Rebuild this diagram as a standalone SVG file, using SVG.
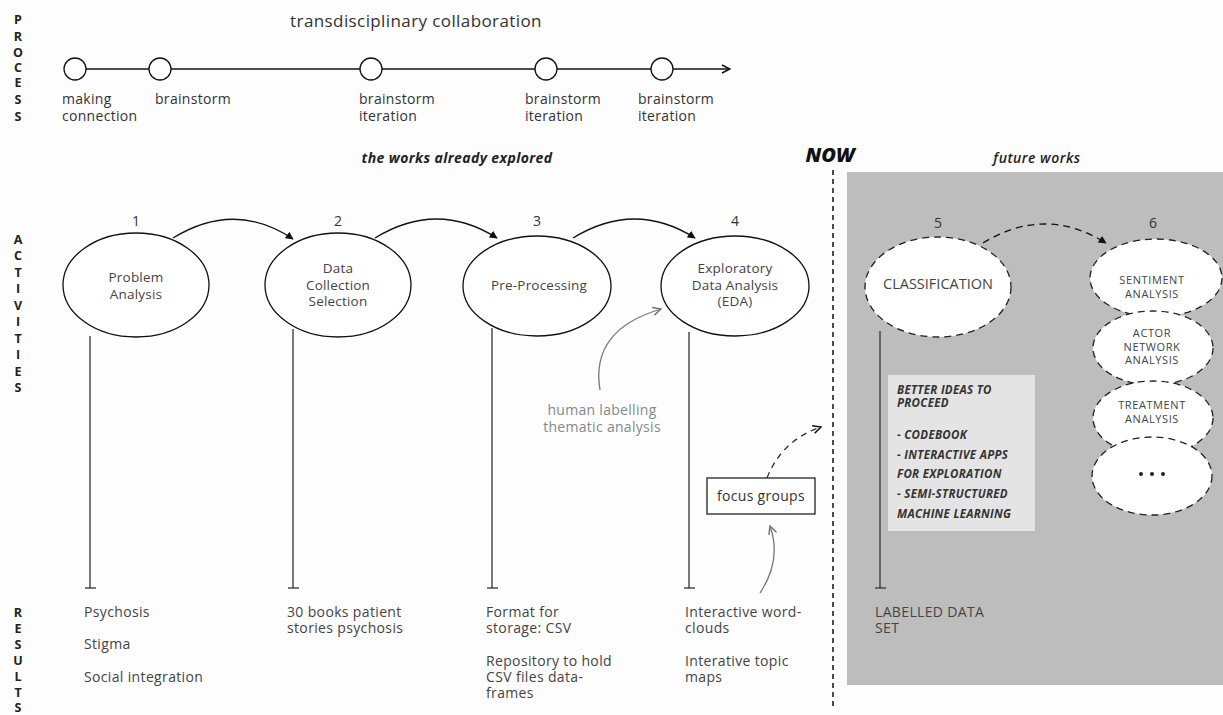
<svg xmlns="http://www.w3.org/2000/svg" width="1223" height="715" viewBox="0 0 1223 715">
<defs>
<style>
text{font-family:"Open Sans","Liberation Sans",sans-serif;fill:#333}
.vl{font-size:12.5px;font-weight:700;text-anchor:middle;fill:#222}
.pl{font-size:14px;letter-spacing:0.3px;fill:#333}
.num{font-size:14px;text-anchor:middle}
.nt{font-size:13.5px;letter-spacing:0.2px;text-anchor:middle;fill:#444}
.ft{font-size:11px;letter-spacing:0.6px;text-anchor:middle;fill:#444}
.res{font-size:14px;letter-spacing:0.35px;fill:#444}
.bi{font-size:11.5px;letter-spacing:0.3px;font-weight:700;font-style:italic;fill:#333}
.node{fill:#fff;stroke:#111;stroke-width:1.3}
.fnode{fill:#fff;stroke:#222;stroke-width:1.3;stroke-dasharray:7,5}
.stem{stroke:#333;stroke-width:1.3;fill:none}
.con{stroke:#111;stroke-width:1.3;fill:none}
</style>
<marker id="ah" viewBox="0 0 10 10" refX="9" refY="5" markerWidth="8" markerHeight="8" markerUnits="userSpaceOnUse" orient="auto"><path d="M0,0 L10,5 L0,10 Z" fill="#111"/></marker>
<marker id="oa" viewBox="0 0 10 10" refX="9" refY="5" markerWidth="10" markerHeight="10" markerUnits="userSpaceOnUse" orient="auto"><path d="M1,1 L9,5 L1,9" fill="none" stroke="#111" stroke-width="1.5"/></marker>
<marker id="ga" viewBox="0 0 10 10" refX="9" refY="5" markerWidth="10" markerHeight="10" markerUnits="userSpaceOnUse" orient="auto"><path d="M1,1 L9,5 L1,9" fill="none" stroke="#777" stroke-width="1.5"/></marker>
</defs>
<rect width="1223" height="715" fill="#fdfdfd"/>
<rect x="847" y="172" width="376" height="513" fill="#bdbdbd"/>

<g id="section-labels">
<text class="vl" x="18" y="24">P</text><text class="vl" x="18" y="41">R</text><text class="vl" x="18" y="57">O</text><text class="vl" x="18" y="72">C</text><text class="vl" x="18" y="87">E</text><text class="vl" x="18" y="104">S</text><text class="vl" x="18" y="121">S</text>
<text class="vl" x="18" y="244">A</text><text class="vl" x="18" y="260">C</text><text class="vl" x="18" y="277">T</text><text class="vl" x="18" y="293">I</text><text class="vl" x="18" y="310">V</text><text class="vl" x="18" y="326">I</text><text class="vl" x="18" y="343">T</text><text class="vl" x="18" y="359">I</text><text class="vl" x="18" y="376">E</text><text class="vl" x="18" y="392">S</text>
<text class="vl" x="18" y="617">R</text><text class="vl" x="18" y="633">E</text><text class="vl" x="18" y="649">S</text><text class="vl" x="18" y="665">U</text><text class="vl" x="18" y="681">L</text><text class="vl" x="18" y="697">T</text><text class="vl" x="18" y="712">S</text>
</g>

<g id="process">
<text x="416" y="27" style="font-size:17px;letter-spacing:0.4px;text-anchor:middle">transdisciplinary collaboration</text>
<line x1="86" y1="69" x2="730" y2="69" stroke="#111" stroke-width="1.3" marker-end="url(#oa)"/>
<circle cx="75" cy="69" r="11" fill="#fff" stroke="#111" stroke-width="1.3"/>
<circle cx="160" cy="69" r="11" fill="#fff" stroke="#111" stroke-width="1.3"/>
<circle cx="371" cy="69" r="11" fill="#fff" stroke="#111" stroke-width="1.3"/>
<circle cx="546" cy="69" r="11" fill="#fff" stroke="#111" stroke-width="1.3"/>
<circle cx="662" cy="69" r="11" fill="#fff" stroke="#111" stroke-width="1.3"/>
<text class="pl" x="62" y="104">making</text><text class="pl" x="62" y="121">connection</text>
<text class="pl" x="155" y="104">brainstorm</text>
<text class="pl" x="359" y="104">brainstorm</text><text class="pl" x="359" y="121">iteration</text>
<text class="pl" x="525" y="104">brainstorm</text><text class="pl" x="525" y="121">iteration</text>
<text class="pl" x="638" y="104">brainstorm</text><text class="pl" x="638" y="121">iteration</text>
</g>

<g id="headers">
<text x="457" y="163" style="font-size:14px;letter-spacing:0.4px;font-weight:700;font-style:italic;text-anchor:middle;fill:#222">the works already explored</text>
<text x="830" y="162" style="font-size:20px;font-weight:800;font-style:italic;text-anchor:middle;fill:#111">NOW</text>
<text x="1037" y="163" style="font-size:14px;letter-spacing:0.5px;font-weight:600;font-style:italic;text-anchor:middle;fill:#222">future works</text>
<line x1="833" y1="170" x2="833" y2="706" stroke="#111" stroke-width="1.5" stroke-dasharray="5,4"/>
</g>

<g id="connectors">
<line class="stem" x1="90" y1="336" x2="90" y2="588"/><line class="stem" x1="85" y1="588" x2="96" y2="588"/>
<line class="stem" x1="293" y1="329" x2="293" y2="588"/><line class="stem" x1="288" y1="588" x2="299" y2="588"/>
<line class="stem" x1="492" y1="328" x2="492" y2="588"/><line class="stem" x1="487" y1="588" x2="498" y2="588"/>
<line class="stem" x1="689" y1="332" x2="689" y2="588"/><line class="stem" x1="684" y1="588" x2="695" y2="588"/>
<line class="stem" x1="880" y1="331" x2="880" y2="588"/><line class="stem" x1="875" y1="588" x2="886" y2="588"/>
<path class="con" d="M173,238 Q235,200 293,239" marker-end="url(#ah)"/>
<path class="con" d="M375,238 Q437,200 497,238" marker-end="url(#ah)"/>
<path class="con" d="M573,238 Q635,200 695,238" marker-end="url(#ah)"/>
<path class="con" d="M983,243 Q1045,205 1106,243" stroke-dasharray="7,5" marker-end="url(#ah)"/>
<path d="M600,390 Q590,330 661,309" fill="none" stroke="#777" stroke-width="1.3" marker-end="url(#ga)"/>
<path d="M760,593 Q782,560 770,526" fill="none" stroke="#777" stroke-width="1.3" marker-end="url(#ga)"/>
<path d="M767,478 Q782,440 821,427" fill="none" stroke="#333" stroke-width="1.3" stroke-dasharray="6,5" marker-end="url(#oa)"/>
</g>

<g id="n1"><text class="num" x="136" y="226">1</text><ellipse class="node" cx="136" cy="285" rx="73" ry="52"/><text class="nt" x="136" y="282">Problem</text><text class="nt" x="136" y="299">Analysis</text></g>
<g id="n2"><text class="num" x="338" y="226">2</text><ellipse class="node" cx="338" cy="285" rx="73" ry="52"/><text class="nt" x="338" y="273">Data</text><text class="nt" x="338" y="290">Collection</text><text class="nt" x="338" y="306">Selection</text></g>
<g id="n3"><text class="num" x="537" y="226">3</text><ellipse class="node" cx="537" cy="286" rx="74" ry="50"/><text class="nt" x="539" y="290">Pre-Processing</text></g>
<g id="n4"><text class="num" x="735" y="226">4</text><ellipse class="node" cx="735" cy="286" rx="74" ry="50"/><text class="nt" x="735" y="273">Exploratory</text><text class="nt" x="735" y="290">Data Analysis</text><text class="nt" x="735" y="306">(EDA)</text></g>
<g id="n5"><text class="num" x="938" y="228">5</text><ellipse class="fnode" cx="938" cy="287" rx="73" ry="50"/><text x="938" y="289" style="font-size:14.5px;text-anchor:middle;fill:#444">CLASSIFICATION</text></g>
<g id="n6"><text class="num" x="1153" y="228">6</text>
<ellipse class="fnode" cx="1156" cy="278" rx="66" ry="39"/><text class="ft" x="1152" y="284">SENTIMENT</text><text class="ft" x="1152" y="298">ANALYSIS</text>
<ellipse class="fnode" cx="1153" cy="348" rx="60" ry="37"/><text class="ft" x="1152" y="337">ACTOR</text><text class="ft" x="1152" y="351">NETWORK</text><text class="ft" x="1152" y="364">ANALYSIS</text>
<ellipse class="fnode" cx="1153" cy="418" rx="60" ry="37"/><text class="ft" x="1152" y="409">TREATMENT</text><text class="ft" x="1152" y="423">ANALYSIS</text>
<ellipse class="fnode" cx="1152" cy="476" rx="60" ry="39"/><circle cx="1141" cy="474" r="2" fill="#222"/><circle cx="1152" cy="474" r="2" fill="#222"/><circle cx="1163" cy="474" r="2" fill="#222"/>
</g>

<g id="annotations">
<text x="602" y="415" style="font-size:14px;letter-spacing:0.3px;text-anchor:middle;fill:#888">human labelling</text>
<text x="602" y="432" style="font-size:14px;letter-spacing:0.3px;text-anchor:middle;fill:#888">thematic analysis</text>
</g>
<g id="focus-groups"><rect x="707" y="478" width="108" height="36" fill="#fff" stroke="#222" stroke-width="1.3"/><text x="761" y="501" style="font-size:14px;letter-spacing:0.3px;text-anchor:middle;fill:#333">focus groups</text></g>
<g id="better-ideas"><rect x="888" y="375" width="147" height="156" fill="#e4e4e4"/>
<text class="bi" x="897" y="394">BETTER IDEAS TO</text><text class="bi" x="897" y="407">PROCEED</text>
<text class="bi" x="897" y="439">- CODEBOOK</text><text class="bi" x="897" y="459">- INTERACTIVE APPS</text><text class="bi" x="897" y="478">FOR EXPLORATION</text><text class="bi" x="897" y="498">- SEMI-STRUCTURED</text><text class="bi" x="897" y="518">MACHINE LEARNING</text>
</g>

<g id="results">
<text class="res" x="84" y="617">Psychosis</text><text class="res" x="84" y="649">Stigma</text><text class="res" x="84" y="682">Social integration</text>
<text class="res" x="287" y="617">30 books patient</text><text class="res" x="287" y="633">stories psychosis</text>
<text class="res" x="486" y="617">Format for</text><text class="res" x="486" y="633">storage: CSV</text><text class="res" x="486" y="666">Repository to hold</text><text class="res" x="486" y="682">CSV files data-</text><text class="res" x="486" y="698">frames</text>
<text class="res" x="685" y="617">Interactive word-</text><text class="res" x="685" y="633">clouds</text><text class="res" x="685" y="666">Interative topic</text><text class="res" x="685" y="682">maps</text>
<text class="res" x="875" y="617">LABELLED DATA</text><text class="res" x="875" y="633">SET</text>
</g>
</svg>
